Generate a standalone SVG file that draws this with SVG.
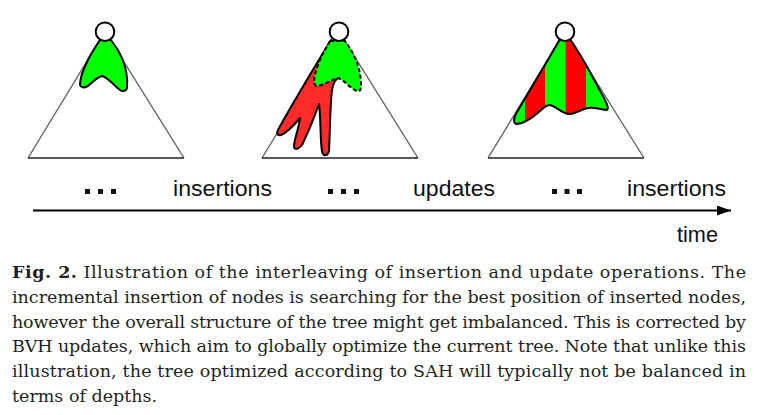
<svg xmlns="http://www.w3.org/2000/svg" width="768" height="415" viewBox="0 0 768 415">
<style>
.tri{fill:none;stroke:#666;stroke-width:1.4}
.base{stroke:#222;stroke-width:1.5}
.root{fill:#fff;stroke:#000;stroke-width:2}
.g{fill:#00ff00;stroke:#000;stroke-width:2;stroke-linejoin:round}
.r{fill:#ff2a2a;stroke:#000;stroke-width:2;stroke-linejoin:round}
.dash{stroke-dasharray:4 2.5}
.lbl{font-family:"Liberation Sans",Arial,sans-serif;font-size:22px;fill:#111}
.cap{font-family:"DejaVu Serif","Liberation Serif",serif;font-size:17.5px;fill:#231f20}
.dot{fill:#111}
</style>
<defs>
<marker id="ah" viewBox="0 0 14 10" refX="14" refY="5" markerWidth="14" markerHeight="10" markerUnits="userSpaceOnUse" orient="auto">
<path d="M0,0 L14,5 L0,10 Z" fill="#000"/>
</marker>
<clipPath id="c3">
<path d="M 560,39 C 548,60 530,90 517,112 C 514,117 513,122 516,124 C 523,124 532,118 540,111 C 544,107 547,105 550,105 C 556,106 562,114 569,114 C 576,114 581,109 588,108 C 594,107 601,109 606,110 C 609,110 608,106 605,100 C 600,90 594,80 590,72 C 583,59 576,48 570,39 Z"/>
</clipPath>
</defs>

<g id="tree1">
<path class="tri" d="M 28,158 L 105,31.7 L 184,158"/>
<line class="base" x1="28" y1="158" x2="184" y2="158"/>
<path class="g" d="M 100,40 C 96,46 90,55 87,62 C 83,70 80,80 80,85 C 81,88 84,88 88,86 C 93,82 97,77 102,76 C 108,77 114,86 120,90 C 123,92 127,91 127,87 C 128,78 126,68 122,58 C 119,51 115,45 111,40 Z"/>
<circle class="root" cx="105" cy="31.7" r="9.3"/>
</g>

<g id="tree2">
<path class="tri" d="M 262,158 L 339,31.7 L 418,158"/>
<line class="base" x1="262" y1="158" x2="418" y2="158"/>
<path class="r" d="M 331,40 C 320,58 298,94 279,128 C 276,133 277,136 281,135 C 288,132 295,124 300,118 C 299,128 294,140 294,146 C 294,150 298,150 302,145 C 308,133 314,118 319,104 C 321,118 320,140 322,151 C 323,157 328,156 329,151 C 330,135 330,105 332,90 C 333,84 335,80 338,78 L 336,45 Z"/>
<path class="g dash" d="M 330,41 C 325,50 320,58 317,68 C 314,76 313,83 316,86 C 321,86 327,82 331,81 C 334,79 336,78 338,78 C 344,80 351,89 357,91 C 361,92 361,88 361,84 C 361,74 358,64 354,56 C 351,49 347,44 345,41 Z"/>
<circle class="root" cx="339" cy="31.7" r="9.3"/>
</g>

<g id="tree3">
<path class="tri" d="M 488,158 L 565,31.7 L 644,158"/>
<line class="base" x1="488" y1="158" x2="644" y2="158"/>
<g clip-path="url(#c3)">
<rect x="505" y="30" width="110" height="100" fill="#00ff00"/>
<rect x="525" y="30" width="20" height="100" fill="#ff0000"/>
<rect x="565.7" y="30" width="20.3" height="100" fill="#ff0000"/>
</g>
<path fill="none" stroke="#000" stroke-width="2" stroke-linejoin="round" d="M 560,39 C 548,60 530,90 517,112 C 514,117 513,122 516,124 C 523,124 532,118 540,111 C 544,107 547,105 550,105 C 556,106 562,114 569,114 C 576,114 581,109 588,108 C 594,107 601,109 606,110 C 609,110 608,106 605,100 C 600,90 594,80 590,72 C 583,59 576,48 570,39"/>
<circle class="root" cx="565" cy="31.7" r="9.3"/>
</g>

<g id="connectors">
<line x1="33" y1="210.5" x2="731" y2="210.5" stroke="#000" stroke-width="2" marker-end="url(#ah)"/>
</g>

<g id="timeline-labels">
<rect class="dot" x="85" y="189" width="5" height="5"/>
<rect class="dot" x="98" y="189" width="5" height="5"/>
<rect class="dot" x="111" y="189" width="5" height="5"/>
<rect class="dot" x="328" y="189" width="5" height="5"/>
<rect class="dot" x="341" y="189" width="5" height="5"/>
<rect class="dot" x="354" y="189" width="5" height="5"/>
<rect class="dot" x="552" y="189" width="5" height="5"/>
<rect class="dot" x="564.5" y="189" width="5" height="5"/>
<rect class="dot" x="577" y="189" width="5" height="5"/>
<text class="lbl" x="173" y="196" textLength="99" lengthAdjust="spacingAndGlyphs">insertions</text>
<text class="lbl" x="413" y="196" textLength="82" lengthAdjust="spacingAndGlyphs">updates</text>
<text class="lbl" x="627" y="196" textLength="99" lengthAdjust="spacingAndGlyphs">insertions</text>
<text class="lbl" x="677" y="242" textLength="41" lengthAdjust="spacingAndGlyphs">time</text>
</g>

<g id="caption">
<text class="cap" x="12" y="278" textLength="734" lengthAdjust="spacing"><tspan font-weight="bold">Fig. 2.</tspan> Illustration of the interleaving of insertion and update operations. The</text>
<text class="cap" x="12" y="302.8" textLength="734" lengthAdjust="spacing">incremental insertion of nodes is searching for the best position of inserted nodes,</text>
<text class="cap" x="12" y="327.6" textLength="734" lengthAdjust="spacing">however the overall structure of the tree might get imbalanced. This is corrected by</text>
<text class="cap" x="12" y="352.4" textLength="734" lengthAdjust="spacing">BVH updates, which aim to globally optimize the current tree. Note that unlike this</text>
<text class="cap" x="12" y="377.2" textLength="734" lengthAdjust="spacing">illustration, the tree optimized according to SAH will typically not be balanced in</text>
<text class="cap" x="12" y="402">terms of depths.</text>
</g>
</svg>
